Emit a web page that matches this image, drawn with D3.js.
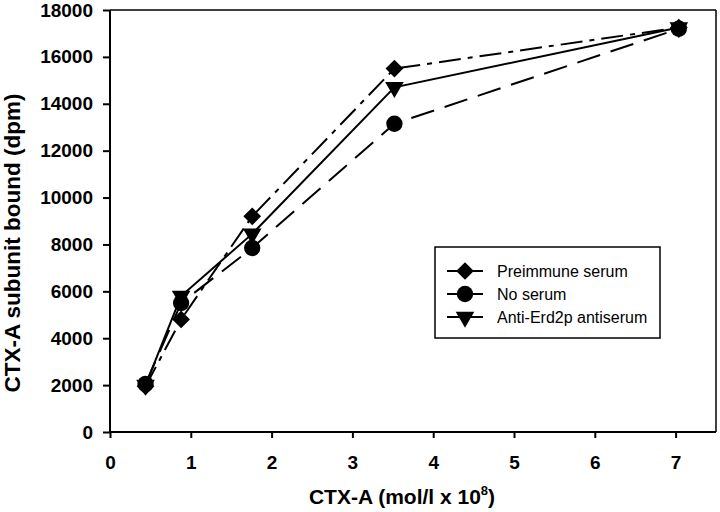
<!DOCTYPE html>
<html>
<head>
<meta charset="utf-8">
<script src="https://cdn.jsdelivr.net/npm/d3@7"></script>
<style>
  html, body { margin: 0; padding: 0; background: #fff; }
  svg { display: block; }
  text { font-family: "Liberation Sans", Arial, Helvetica, sans-serif; fill: #000; }
</style>
</head>
<body>
<svg id="chart" width="720" height="512"></svg>
<script>
// ---- data ----
const concentrations = [0.44, 0.88, 1.76, 3.52, 7.04];
const preimmune = [1950, 4800, 9200, 15500, 17250];
const noSerum = [2050, 5500, 7850, 13150, 17200];
const antiErd2p = [2000, 5800, 8450, 14700, 17250];
const seriesNames = ["Preimmune serum", "No serum", "Anti-Erd2p antiserum"];
const xTicks = [0, 1, 2, 3, 4, 5, 6, 7];
const yTicks = [0, 2000, 4000, 6000, 8000, 10000, 12000, 14000, 16000, 18000];

const svg = d3.select("#chart");
const L = 110, R = 716, T = 10, B = 432;
const x = d3.scaleLinear().domain([0, 7.5]).range([L, R]);
const y = d3.scaleLinear().domain([0, 18000]).range([B, T]);

// frame top/right
svg.append("line").attr("x1", L).attr("x2", R).attr("y1", T).attr("y2", T)
  .attr("stroke", "#000").attr("stroke-width", 1.5);
svg.append("line").attr("x1", R).attr("x2", R).attr("y1", T).attr("y2", B)
  .attr("stroke", "#000").attr("stroke-width", 1.5);

// axes
const xAxis = svg.append("g").attr("transform", `translate(0,${B})`)
  .call(d3.axisBottom(x).tickValues(xTicks).tickSize(6).tickPadding(18).tickFormat(d3.format("d")));
const yAxis = svg.append("g").attr("transform", `translate(${L},0)`)
  .call(d3.axisLeft(y).tickValues(yTicks).tickSize(7).tickPadding(10).tickFormat(d3.format("d")));
[xAxis, yAxis].forEach(g => {
  g.select(".domain").attr("stroke", "#000").attr("stroke-width", 2);
  g.selectAll(".tick line").attr("stroke", "#000").attr("stroke-width", 2);
  g.selectAll(".tick text").attr("font-size", 19).attr("font-weight", "bold")
    .attr("font-family", "Liberation Sans, Arial, sans-serif").attr("fill", "#000");
});
xAxis.select(".domain").attr("d", `M${L},0H${R}`);
yAxis.select(".domain").attr("d", `M0,${B}V${T}`);

// axis titles
svg.append("text").attr("x", 402).attr("y", 504).attr("text-anchor", "middle")
  .attr("font-size", 21).attr("font-weight", "bold")
  .call(t => {
    t.append("tspan").text("CTX-A (mol/l x 10");
    t.append("tspan").attr("dy", -9).attr("font-size", 13).text("8");
    t.append("tspan").attr("dy", 9).text(")");
  });
svg.append("text").attr("transform", "translate(20,243) rotate(-90)")
  .attr("text-anchor", "middle").attr("font-size", 22.5).attr("font-weight", "bold")
  .text("CTX-A subunit bound (dpm)");

// series
const series = [
  { name: seriesNames[0], values: preimmune, dash: "22,7,5,7", symbol: d3.symbolDiamond2, size: 200, rot: 0 },
  { name: seriesNames[1], values: noSerum, dash: "24,11", symbol: d3.symbolCircle, size: 210, rot: 0 },
  { name: seriesNames[2], values: antiErd2p, dash: null, symbol: d3.symbolTriangle, size: 150, rot: 180 }
];
const line = d3.line().x(d => x(d[0])).y(d => y(d[1]));

series.forEach(s => {
  const pts = concentrations.map((c, i) => [c, s.values[i]]);
  svg.append("path").datum(pts).attr("d", line).attr("fill", "none")
    .attr("stroke", "#000").attr("stroke-width", 2)
    .attr("stroke-dasharray", s.dash);
});
series.forEach(s => {
  const pts = concentrations.map((c, i) => [c, s.values[i]]);
  svg.append("g").selectAll("path").data(pts).join("path")
    .attr("d", d3.symbol().type(s.symbol).size(s.size))
    .attr("transform", d => `translate(${x(d[0])},${y(d[1])}) rotate(${s.rot})`)
    .attr("fill", "#000");
});

// legend
const lg = svg.append("g");
lg.append("rect").attr("x", 435).attr("y", 247).attr("width", 225).attr("height", 91)
  .attr("fill", "#fff").attr("stroke", "#000").attr("stroke-width", 1.5);
series.forEach((s, i) => {
  const yy = 271 + i * 23;
  lg.append("line").attr("x1", 447).attr("x2", 483).attr("y1", yy).attr("y2", yy)
    .attr("stroke", "#000").attr("stroke-width", 2);
  lg.append("path").attr("d", d3.symbol().type(s.symbol).size(s.size)())
    .attr("transform", `translate(465,${yy}) rotate(${s.rot})`).attr("fill", "#000");
  lg.append("text").attr("x", 497).attr("y", yy).attr("dy", "0.35em")
    .attr("font-size", 16).text(s.name);
});
</script>
</body>
</html>
